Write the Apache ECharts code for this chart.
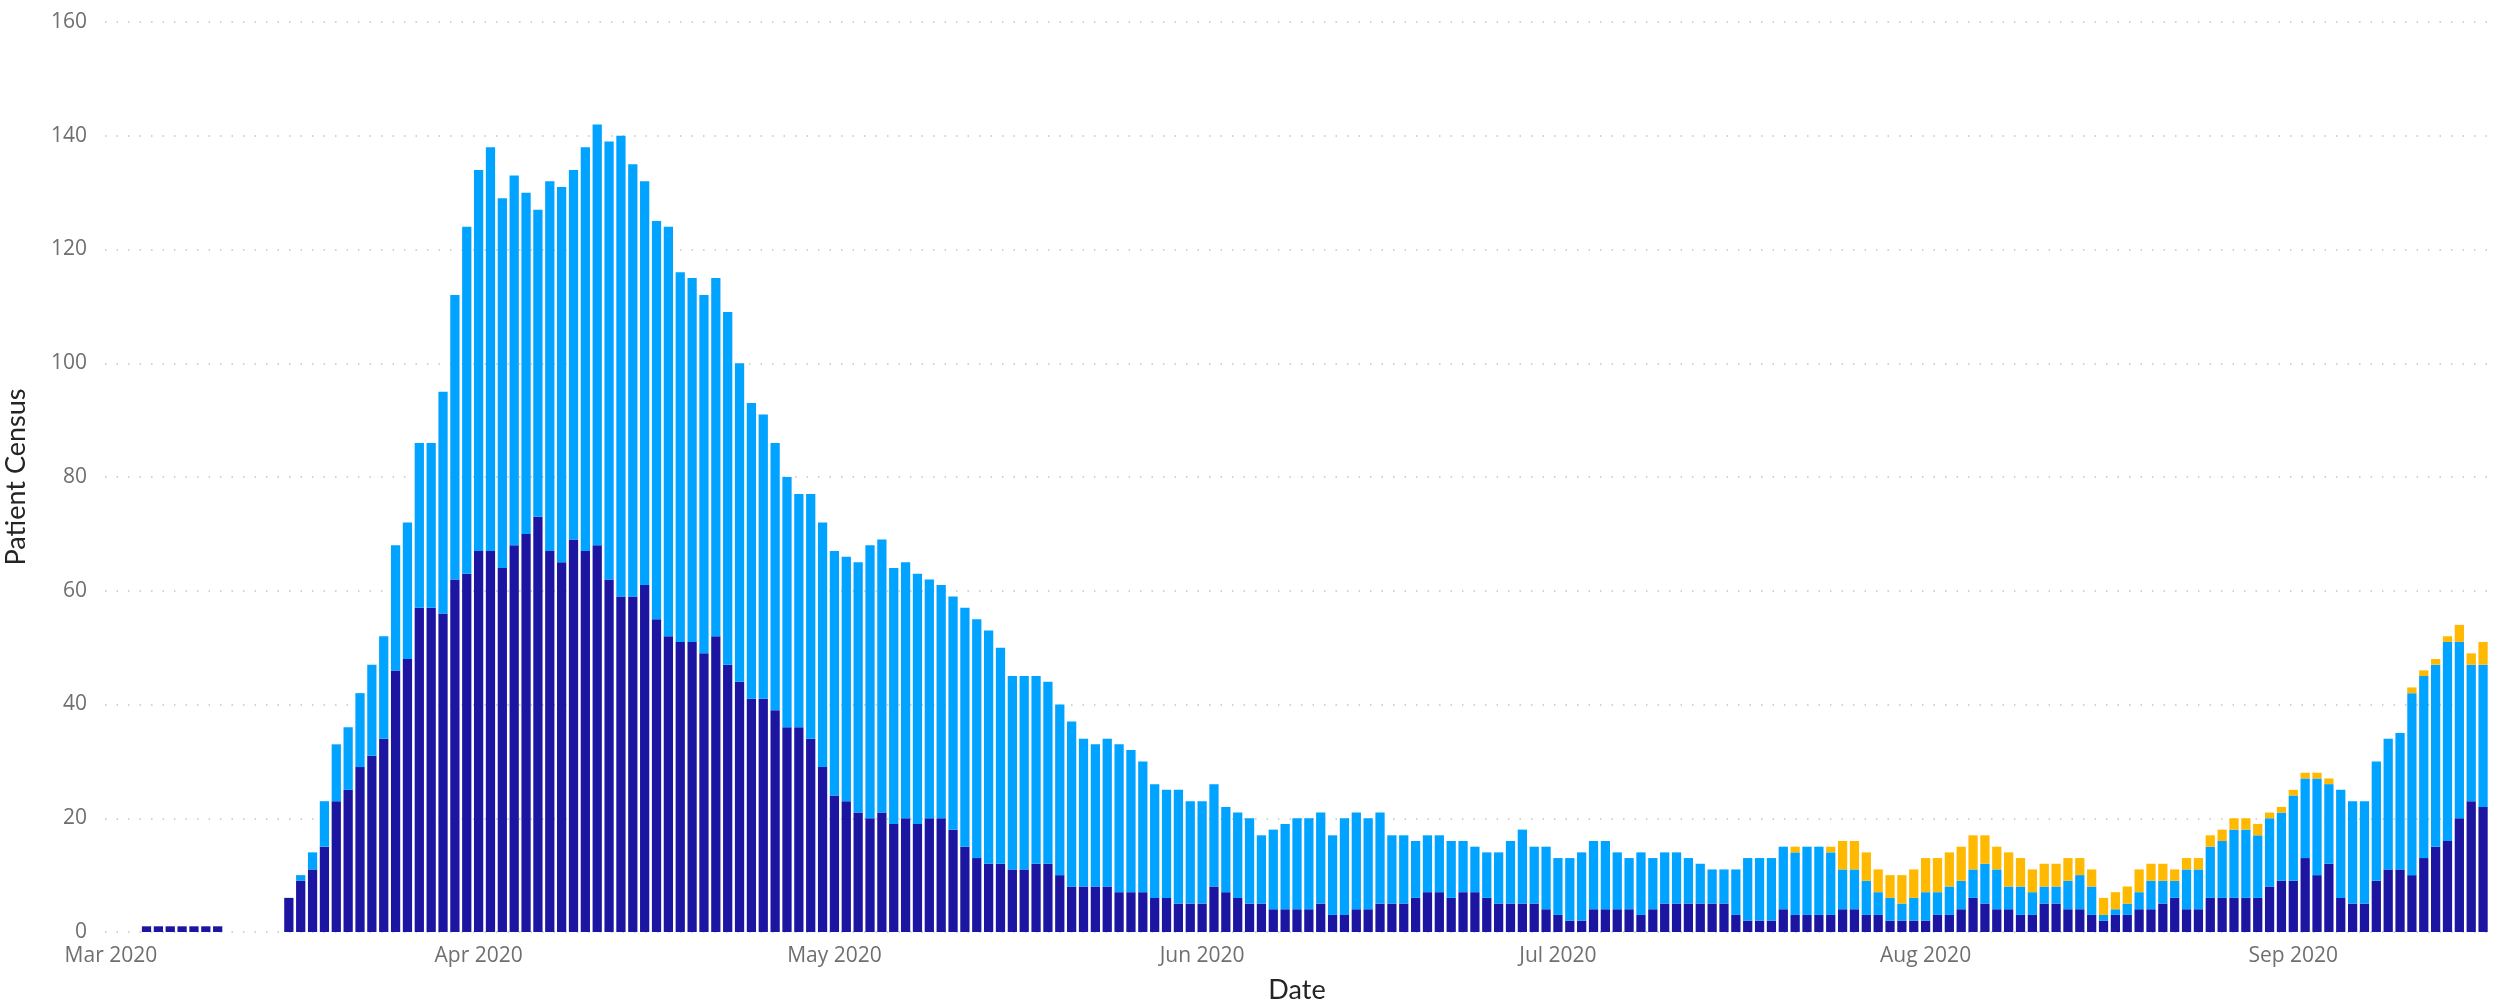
<!DOCTYPE html>
<html>
<head>
<meta charset="utf-8">
<script src="https://cdn.jsdelivr.net/npm/echarts@6/dist/echarts.min.js"></script>
<style>
html,body{margin:0;padding:0;background:#fff;}
#chart{width:2503px;height:1006px;}
</style>
</head>
<body>
<div id="chart"></div>
<script>
// Date range of the category axis (one bar slot per day)
const firstDay = '2020-03-01';
const dayCount = 201; // Mar 1 .. Sep 17, 2020
const monthNames = ['Jan','Feb','Mar','Apr','May','Jun','Jul','Aug','Sep','Oct','Nov','Dec'];
const yTicks = [0, 20, 40, 60, 80, 100, 120, 140, 160];

// Series 1 (navy, bottom)
const navyMar = [null,null,null,1,1,1,1,1,1,1,null,null,null,null,null,6,9,11,15,23,25,29,31,34,46,48,57,57,56,62,63];
const navyApr = [67,67,64,68,70,73,67,65,69,67,68,62,59,59,61,55,52,51,51,49,52,47,44,41,41,39,36,36,34,29];
const navyMay = [24,23,21,20,21,19,20,19,20,20,18,15,13,12,12,11,11,12,12,10,8,8,8,8,7,7,7,6,6,5,5];
const navyJun = [5,8,7,6,5,5,4,4,4,4,5,3,3,4,4,5,5,5,6,7,7,6,7,7,6,5,5,5,5,4];
const navyJul = [3,2,2,4,4,4,4,3,4,5,5,5,5,5,5,3,2,2,2,4,3,3,3,3,4,4,3,3,2,2,2];
const navyAug = [2,3,3,4,6,5,4,4,3,3,5,5,4,4,3,2,3,3,4,4,5,6,4,4,6,6,6,6,6,8,9];
const navySep = [9,13,10,12,6,5,5,9,11,11,10,13,15,16,20,23,22];

// Series 2 (light blue, middle)
const lightMar = [null,null,null,null,null,null,null,null,null,null,null,null,null,null,null,null,1,3,8,10,11,13,16,18,22,24,29,29,39,50,61];
const lightApr = [67,71,65,65,60,54,65,66,65,71,74,77,81,76,71,70,72,65,64,63,63,62,56,52,50,47,44,41,43,43];
const lightMay = [43,43,44,48,48,45,45,44,42,41,41,42,42,41,38,34,34,33,32,30,29,26,25,26,26,25,23,20,19,20,18];
const lightJun = [18,18,15,15,15,12,14,15,16,16,16,14,17,17,16,16,12,12,10,10,10,10,9,8,8,9,11,13,10,11];
const lightJul = [10,11,12,12,12,10,9,11,9,9,9,8,7,6,6,8,11,11,11,11,11,12,12,11,7,7,6,4,4,3,4];
const lightAug = [5,4,5,5,5,7,7,4,5,4,3,3,5,6,5,1,1,2,3,5,4,3,7,7,9,10,12,12,11,12,12];
const lightSep = [15,14,17,14,19,18,18,21,23,24,32,32,32,35,31,24,25];

// Series 3 (yellow, top)
const yellowMarJun = new Array(31 + 30 + 31 + 30).fill(null);
const yellowJul = [null,null,null,null,null,null,null,null,null,null,null,null,null,null,null,null,null,null,null,null,1,null,null,1,5,5,5,4,4,5,5];
const yellowAug = [6,6,6,6,6,5,4,6,5,4,4,4,4,3,3,3,3,3,4,3,3,2,2,2,2,2,2,2,2,1,1];
const yellowSep = [1,1,1,1,null,null,null,null,null,null,1,1,1,1,3,2,4];

const navy = [].concat(navyMar, navyApr, navyMay, navyJun, navyJul, navyAug, navySep);
const light = [].concat(lightMar, lightApr, lightMay, lightJun, lightJul, lightAug, lightSep);
const yellow = [].concat(yellowMarJun, yellowJul, yellowAug, yellowSep);

const categories = [];
{
  const d = new Date(firstDay + 'T00:00:00Z');
  for (let i = 0; i < dayCount; i++) {
    categories.push(d.toISOString().slice(0, 10));
    d.setUTCDate(d.getUTCDate() + 1);
  }
}

const chart = echarts.init(document.getElementById('chart'), null, {renderer: 'canvas'});
const tickFont = "'Open Sans', 'Segoe UI', sans-serif";
const titleFont = "Lato, 'Noto Sans', sans-serif";

chart.setOption({
  animation: false,
  backgroundColor: '#ffffff',
  grid: {left: 105, right: 14, top: 22, bottom: 74, containLabel: false, outerBoundsMode: 'none'},
  xAxis: {
    type: 'category',
    data: categories,
    boundaryGap: true,
    name: 'Date',
    nameLocation: 'middle',
    nameGap: 45,
    nameTextStyle: {fontFamily: titleFont, fontSize: 27, color: '#252423', verticalAlign: 'top'},
    axisLine: {show: false},
    axisTick: {show: false},
    axisLabel: {
      interval: function (idx, val) { return val.slice(8, 10) === '01'; },
      formatter: function (val) { return monthNames[parseInt(val.slice(5, 7), 10) - 1] + ' ' + val.slice(0, 4); },
      fontFamily: tickFont, fontSize: 21, color: '#6f6f6f', margin: 14
    },
    splitLine: {show: false}
  },
  yAxis: {
    type: 'value',
    min: yTicks[0],
    max: yTicks[yTicks.length - 1],
    interval: yTicks[1] - yTicks[0],
    name: 'Patient Census',
    nameLocation: 'middle',
    nameGap: 75,
    nameRotate: 90,
    nameTextStyle: {fontFamily: titleFont, fontSize: 27, color: '#252423'},
    axisLine: {show: false},
    axisTick: {show: false},
    axisLabel: {fontFamily: tickFont, fontSize: 21, color: '#6f6f6f', margin: 18},
    splitLine: {show: true, lineStyle: {color: '#c4c4c4', width: 1.5, type: [1.5, 10]}}
  },
  series: [
    {name: 'A', type: 'bar', stack: 'census', data: navy, barCategoryGap: '22%', itemStyle: {color: '#1b15a1'}},
    {name: 'B', type: 'bar', stack: 'census', data: light, barCategoryGap: '22%', itemStyle: {color: '#00a3ff'}},
    {name: 'C', type: 'bar', stack: 'census', data: yellow, barCategoryGap: '22%', itemStyle: {color: '#ffb900'}}
  ]
});
</script>
</body>
</html>
